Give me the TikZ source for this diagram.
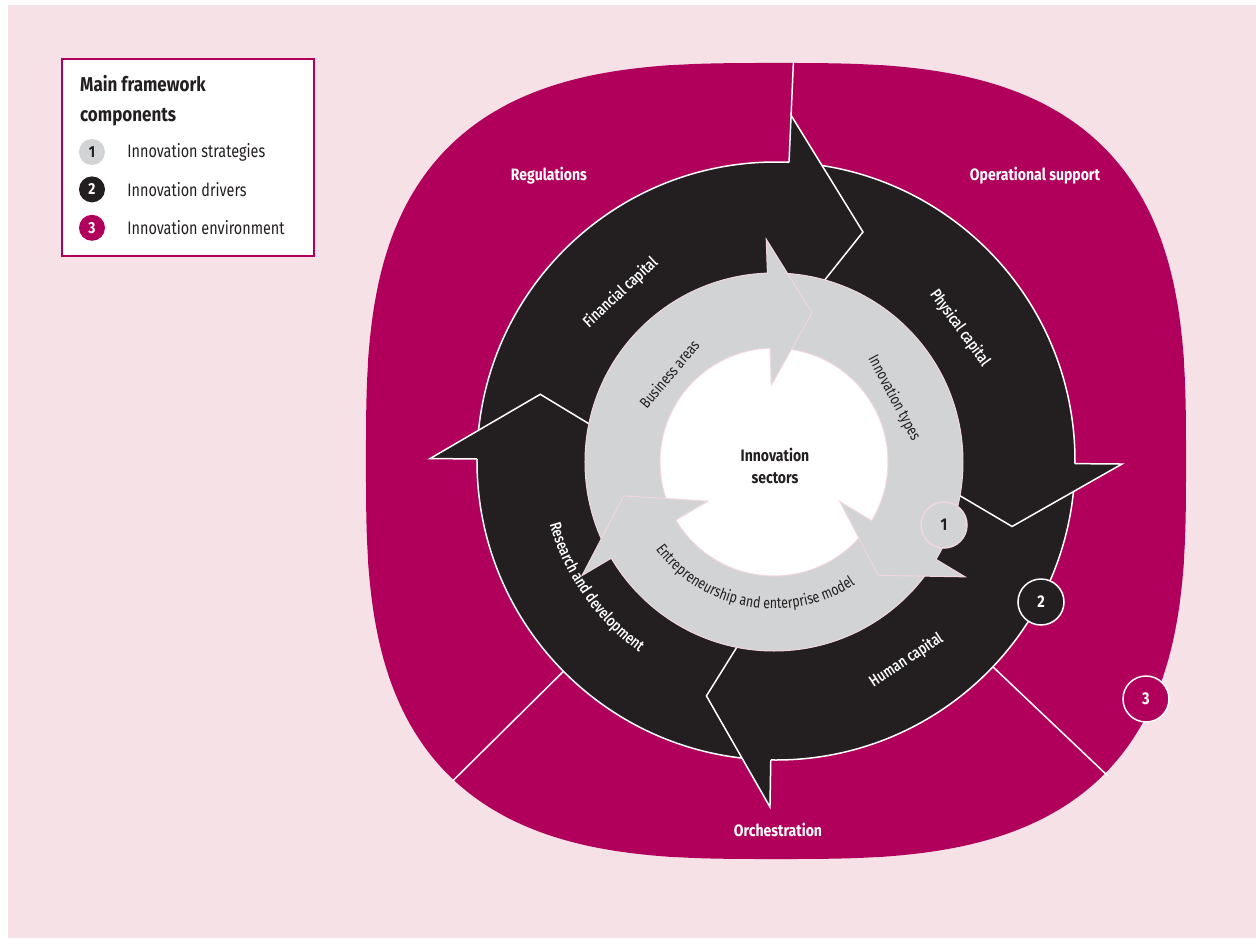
\documentclass[tikz,border=0pt]{standalone}
\usepackage{fontspec}
\setmainfont{Fira Sans}[FakeStretch=0.8]
\newfontfamily\medfont{Fira Sans Medium}[FakeStretch=0.8]
\newfontfamily\heavyfont{Fira Sans Bold}[FakeStretch=0.85]
\usetikzlibrary{positioning,decorations.text}

\definecolor{bgpink}{RGB}{245,225,230}
\definecolor{envmag}{RGB}{177,0,91}
\definecolor{drvblack}{RGB}{35,31,32}
\definecolor{strgrey}{RGB}{209,211,212}
\definecolor{edgepink}{RGB}{242,214,223}

\begin{document}
\begin{tikzpicture}[x=1pt, y=1pt, line join=miter]
	\tikzstyle{whiteline} = [draw=white, line width=1.5pt]
	\tikzstyle{pinkline} = [draw=edgepink, line width=1pt]
	\tikzstyle{envlabel} = [text=white, font=\heavyfont\fontsize{16.5}{19}\selectfont]
	\tikzstyle{drvlabel} = [text=white, font=\medfont\fontsize{16}{19}\selectfont]
	\tikzstyle{strlabel} = [text=drvblack, font=\fontsize{15.5}{18}\selectfont]
	\tikzstyle{numdot} = [circle, minimum size=46pt, inner sep=0pt, line width=1.5pt, font=\heavyfont\fontsize{17}{17}\selectfont]
	\tikzstyle{keydot} = [circle, minimum size=26pt, inner sep=0pt, font=\heavyfont\fontsize{16}{16}\selectfont]
	\tikzstyle{keytext} = [inner sep=0pt, text=drvblack, font=\fontsize{18}{21}\selectfont]
	\tikzstyle{keytitle} = [inner sep=0pt, anchor=base west, text=drvblack, font=\heavyfont\fontsize{20}{22}\selectfont]

	% page
	\useasboundingbox (-776,-477) rectangle (480,461);
	\fill[white] (-776,-477) rectangle (480,461);
	\fill[bgpink] (-768,-477) rectangle (480,456);

	% innovation environment
	\fill[envmag] plot[domain=0.5:359.5, samples=360]
		({410*sign(cos(\x))*abs(cos(\x))^(2/3)}, {398*sign(sin(\x))*abs(sin(\x))^(2/3)}) -- cycle;
	\draw[whiteline] (-135.3:290) -- (-135.3:455);
	\draw[whiteline] (-43.5:290) -- (-43.5:457);
	\draw[whiteline] (87.5:346) -- (87.5:399);

	% innovation drivers
	\filldraw[fill=drvblack, whiteline] (0,0) circle[radius=299];
	\foreach \b/\t in {87.5/69.2, -0.5/-15.5, -91/-106.5, 179.6/164.2} {
		\fill[drvblack] (\b:127) -- (\b:346) -- (\t:245) -- cycle;
		\draw[whiteline] (\b:299) -- (\b:346) -- (\t:245) -- (\b:127);
	}

	% innovation strategies
	\begin{scope}[shift={(-2,-1)}]
	\filldraw[fill=strgrey, pinkline] (0,0) circle[radius=189];
	\filldraw[fill=white, pinkline] (0,0) circle[radius=114];
	\foreach \b/\t in {92/75.7, -31/-47.4, 210.6/192.7} {
		\fill[strgrey] (\b:77) -- (\b:223) -- (\t:154) -- cycle;
		\draw[pinkline] (\b:189) -- (\b:223) -- (\t:154) -- (\b:77) -- (\b:114);
	}
	\node[strlabel, rotate=50] (bizarea) at (140:137) {Business areas};
	\node[strlabel, rotate=-62] (innotype) at (28:136) {Innovation types};
	\path[decorate, decoration={text along path, text align=center,
		text={|\color{drvblack}\fontsize{15.5}{18}\selectfont|Entrepreneurship and enterprise model}}]
		(205:147) arc[start angle=205, end angle=315, radius=147];
	\end{scope}

	\node[align=center, text=drvblack, font=\heavyfont\fontsize{16.5}{22}\selectfont] (sectors) at (-1,-5) {Innovation\\sectors};

	% labels
	\node[drvlabel, rotate=42.7] (fincap) at (132.7:229) {Financial capital};
	\node[drvlabel, rotate=-54] (phycap) at (35.9:227) {Physical capital};
	\node[drvlabel, rotate=33.2] (humcap) at (-56.8:238) {Human capital};
	\path[decorate, decoration={text along path, text align=center,
		text={|\color{white}\medfont\fontsize{16}{19}\selectfont|Research and development}}]
		(184:235) arc[start angle=184, end angle=246, radius=235];

	\node[envlabel] (regul) at (-227,285) {Regulations};
	\node[envlabel] (opsupp) at (259,285) {Operational support};
	\node[envlabel] (orches) at (2,-369) {Orchestration};

	\node[numdot, fill=strgrey, draw=edgepink, text=drvblack] (n1) at (168,-64) {1};
	\node[numdot, fill=drvblack, draw=white, text=white] (n2) at (265,-141) {2};
	\node[numdot, fill=envmag, draw=white, text=white] (n3) at (370,-238) {3};

	% legend
	\filldraw[fill=white, draw=envmag, line width=1.5pt] (-714,402) rectangle (-462,205);
	\node[keytitle] (ttl1) at (-696,369) {Main framework};
	\node[keytitle] (ttl2) at ([yshift=-30pt]ttl1.base west) {components};
	\node[keydot, fill=strgrey, text=drvblack] (k1) at (-684,309) {1};
	\node[keydot, fill=drvblack, text=white, below=11pt of k1] (k2) {2};
	\node[keydot, fill=envmag, text=white, below=12pt of k2] (k3) {3};
	\node[keytext, right=22pt of k1] (t1) {Innovation strategies};
	\node[keytext, right=22pt of k2] (t2) {Innovation drivers};
	\node[keytext, right=22pt of k3] (t3) {Innovation environment};
\end{tikzpicture}
\end{document}
